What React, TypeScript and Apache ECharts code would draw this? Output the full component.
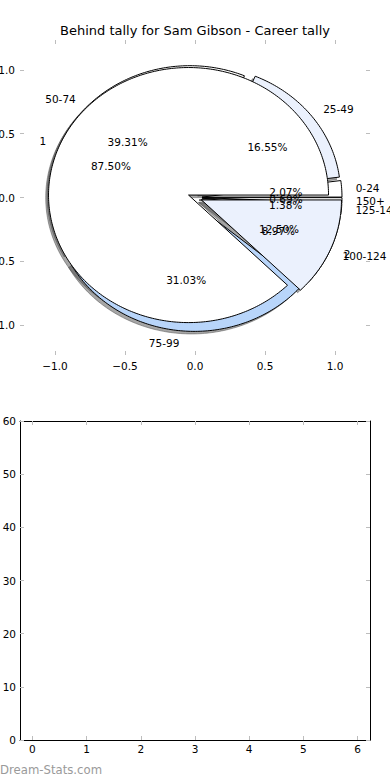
import React, { useEffect, useRef } from 'react';
import * as echarts from 'echarts';

const titleText = 'Behind tally for Sam Gibson - Career tally';
const watermarkText = 'Dream-Stats.com';

// Outer pie: age brackets (counts)
const ageLabels = ['0-24', '25-49', '50-74', '75-99', '100-124', '125-149', '150+'];
const ageCounts = [3, 24, 57, 45, 13, 2, 1];

// Inner pie: groups
const groupLabels = ['1', '2'];
const groupCounts = [7, 1];

// Tick values
const pieTicks = [-1, -0.5, 0, 0.5, 1];
const emptyXTicks = [0, 1, 2, 3, 4, 5, 6];
const emptyYTicks = [0, 10, 20, 30, 40, 50, 60];

// Styles (kept apart from the data)
const ageColors = ['#ffffff', '#ebf1fd', '#ffffff', '#b8d5fa', '#ebf1fd', '#ffffff', '#ffffff'];
const groupColors = ['#ffffff', '#ebf1fd'];

const EXPLODE = 0.05;
const RADIUS = 1;
const LABEL_DIST = 1.1;
const PCT_DIST = 0.6;
const SHADOW_OFF = -0.02;
const FONT = 'DejaVu Sans';
const TICK_COLOR = '#bdbdbd';

function wedgeGeom(counts: number[], i: number) {
  const total = counts.reduce((a, b) => a + b, 0);
  let start = 0;
  for (let j = 0; j < i; j++) start += counts[j];
  const t1 = (start / total) * 360;
  const t2 = ((start + counts[i]) / total) * 360;
  const mid = (((t1 + t2) / 2) * Math.PI) / 180;
  return {
    t1,
    t2,
    mid,
    cx: EXPLODE * RADIUS * Math.cos(mid),
    cy: EXPLODE * RADIUS * Math.sin(mid),
    frac: counts[i] / total,
  };
}

function makeWedgeSeries(counts: number[], colors: string[], shadow: boolean, z: number) {
  return {
    type: 'custom',
    coordinateSystem: 'cartesian2d',
    xAxisIndex: 0,
    yAxisIndex: 0,
    z,
    silent: true,
    clip: false,
    encode: { x: 0, y: 1 },
    data: counts.map((c, i) => [0, 0, c, i]),
    renderItem: (params: any, api: any) => {
      const i = params.dataIndex;
      const g = wedgeGeom(counts, i);
      const off = shadow ? SHADOW_OFF : 0;
      const ox = g.cx + off;
      const oy = g.cy + off;
      const pts: number[][] = [api.coord([ox, oy])];
      const n = Math.max(2, Math.ceil((g.t2 - g.t1) / 1));
      for (let k = 0; k <= n; k++) {
        const t = ((g.t1 + ((g.t2 - g.t1) * k) / n) * Math.PI) / 180;
        pts.push(api.coord([ox + RADIUS * Math.cos(t), oy + RADIUS * Math.sin(t)]));
      }
      return {
        type: 'polygon',
        shape: { points: pts },
        style: shadow
          ? { fill: 'rgba(77,77,77,0.5)', stroke: 'rgba(77,77,77,0.5)', lineWidth: 1 }
          : { fill: colors[i], stroke: '#000000', lineWidth: 1 },
      };
    },
  };
}

function makeLabelSeries(counts: number[], labels: string[], z: number) {
  return {
    type: 'custom',
    coordinateSystem: 'cartesian2d',
    xAxisIndex: 0,
    yAxisIndex: 0,
    z,
    silent: true,
    clip: false,
    encode: { x: 0, y: 1 },
    data: counts.map((c, i) => [0, 0, c, i]),
    renderItem: (params: any, api: any) => {
      const i = params.dataIndex;
      const g = wedgeGeom(counts, i);
      const lx = g.cx + LABEL_DIST * RADIUS * Math.cos(g.mid);
      const ly = g.cy + LABEL_DIST * RADIUS * Math.sin(g.mid);
      const px = g.cx + PCT_DIST * RADIUS * Math.cos(g.mid);
      const py = g.cy + PCT_DIST * RADIUS * Math.sin(g.mid);
      const lp = api.coord([lx, ly]);
      const pp = api.coord([px, py]);
      return {
        type: 'group',
        children: [
          {
            type: 'text',
            x: lp[0],
            y: lp[1],
            style: {
              text: labels[i],
              fill: '#000',
              fontSize: 10.5,
              fontFamily: FONT,
              align: lx > 0 ? 'left' : 'right',
              verticalAlign: 'middle',
            },
          },
          {
            type: 'text',
            x: pp[0],
            y: pp[1],
            style: {
              text: (g.frac * 100).toFixed(2) + '%',
              fill: '#000',
              fontSize: 10.5,
              fontFamily: FONT,
              align: 'center',
              verticalAlign: 'middle',
            },
          },
        ],
      };
    },
  };
}

const fmtPie = (v: number) => (v < 0 ? '\u2212' : '') + Math.abs(v).toFixed(1);

function axisBase(extra: any) {
  return {
    type: 'value',
    splitLine: { show: false },
    axisLine: { show: false, onZero: false },
    ...extra,
  };
}

export default function App() {
  const ref = useRef<HTMLDivElement>(null);

  useEffect(() => {
    if (!ref.current) return;
    const chart = echarts.init(ref.current, undefined, { renderer: 'svg' });
    const labelStyle = { fontSize: 10.5, color: '#000', fontFamily: FONT };
    const tick = (vals: number[]) => ({
      show: true,
      inside: true,
      length: 4,
      customValues: vals,
      lineStyle: { color: TICK_COLOR, width: 1 },
    });
    const frameLine = { show: true, onZero: false, lineStyle: { color: '#000', width: 1 } };

    chart.setOption({
      animation: false,
      backgroundColor: '#ffffff',
      title: {
        text: titleText,
        left: 'center',
        top: 19,
        textStyle: { fontSize: 13, fontWeight: 'normal', color: '#000', fontFamily: FONT },
      },
      grid: [
        { left: 20, right: 20, top: 40, bottom: 425, containLabel: false, outerBoundsMode: 'none' },
        { left: 20, right: 20, top: 421, bottom: 40, containLabel: false, outerBoundsMode: 'none' },
      ],
      xAxis: [
        axisBase({
          gridIndex: 0,
          position: 'bottom',
          min: -1.25,
          max: 1.25,
          axisTick: tick(pieTicks),
          axisLabel: { ...labelStyle, margin: 5, customValues: pieTicks, formatter: fmtPie },
        }),
        axisBase({
          gridIndex: 0,
          position: 'top',
          min: -1.25,
          max: 1.25,
          axisTick: tick(pieTicks),
          axisLabel: { show: false },
        }),
        axisBase({
          gridIndex: 1,
          position: 'bottom',
          min: -0.23,
          max: 6.23,
          axisLine: frameLine,
          axisTick: tick(emptyXTicks),
          axisLabel: { ...labelStyle, margin: 3, customValues: emptyXTicks, formatter: (v: number) => String(v) },
        }),
        axisBase({
          gridIndex: 1,
          position: 'top',
          min: -0.23,
          max: 6.23,
          axisLine: frameLine,
          axisTick: tick(emptyXTicks),
          axisLabel: { show: false },
        }),
      ],
      yAxis: [
        axisBase({
          gridIndex: 0,
          position: 'left',
          min: -1.235,
          max: 1.235,
          axisTick: tick(pieTicks),
          axisLabel: { ...labelStyle, margin: 5, customValues: pieTicks, formatter: fmtPie },
        }),
        axisBase({
          gridIndex: 0,
          position: 'right',
          min: -1.235,
          max: 1.235,
          axisTick: tick(pieTicks),
          axisLabel: { show: false },
        }),
        axisBase({
          gridIndex: 1,
          position: 'left',
          min: 0,
          max: 60,
          axisLine: frameLine,
          axisTick: tick(emptyYTicks),
          axisLabel: { ...labelStyle, margin: 4, customValues: emptyYTicks, formatter: (v: number) => String(v) },
        }),
        axisBase({
          gridIndex: 1,
          position: 'right',
          min: 0,
          max: 60,
          axisLine: frameLine,
          axisTick: tick(emptyYTicks),
          axisLabel: { show: false },
        }),
      ],
      graphic: [
        {
          type: 'text',
          left: 0,
          top: 764,
          style: {
            text: watermarkText,
            fontSize: 11.7,
            fontFamily: FONT,
            fill: '#9a9a9a',
          },
        },
      ],
      series: [
        makeWedgeSeries(ageCounts, ageColors, true, 1),
        makeWedgeSeries(groupCounts, groupColors, true, 1),
        makeWedgeSeries(ageCounts, ageColors, false, 2),
        makeWedgeSeries(groupCounts, groupColors, false, 3),
        makeLabelSeries(ageCounts, ageLabels, 4),
        makeLabelSeries(groupCounts, groupLabels, 4),
      ],
    });

    return () => chart.dispose();
  }, []);

  return (
    <div
      ref={ref}
      style={{ position: 'fixed', left: 0, top: 0, width: 390, height: 780, background: '#fff' }}
    />
  );
}
